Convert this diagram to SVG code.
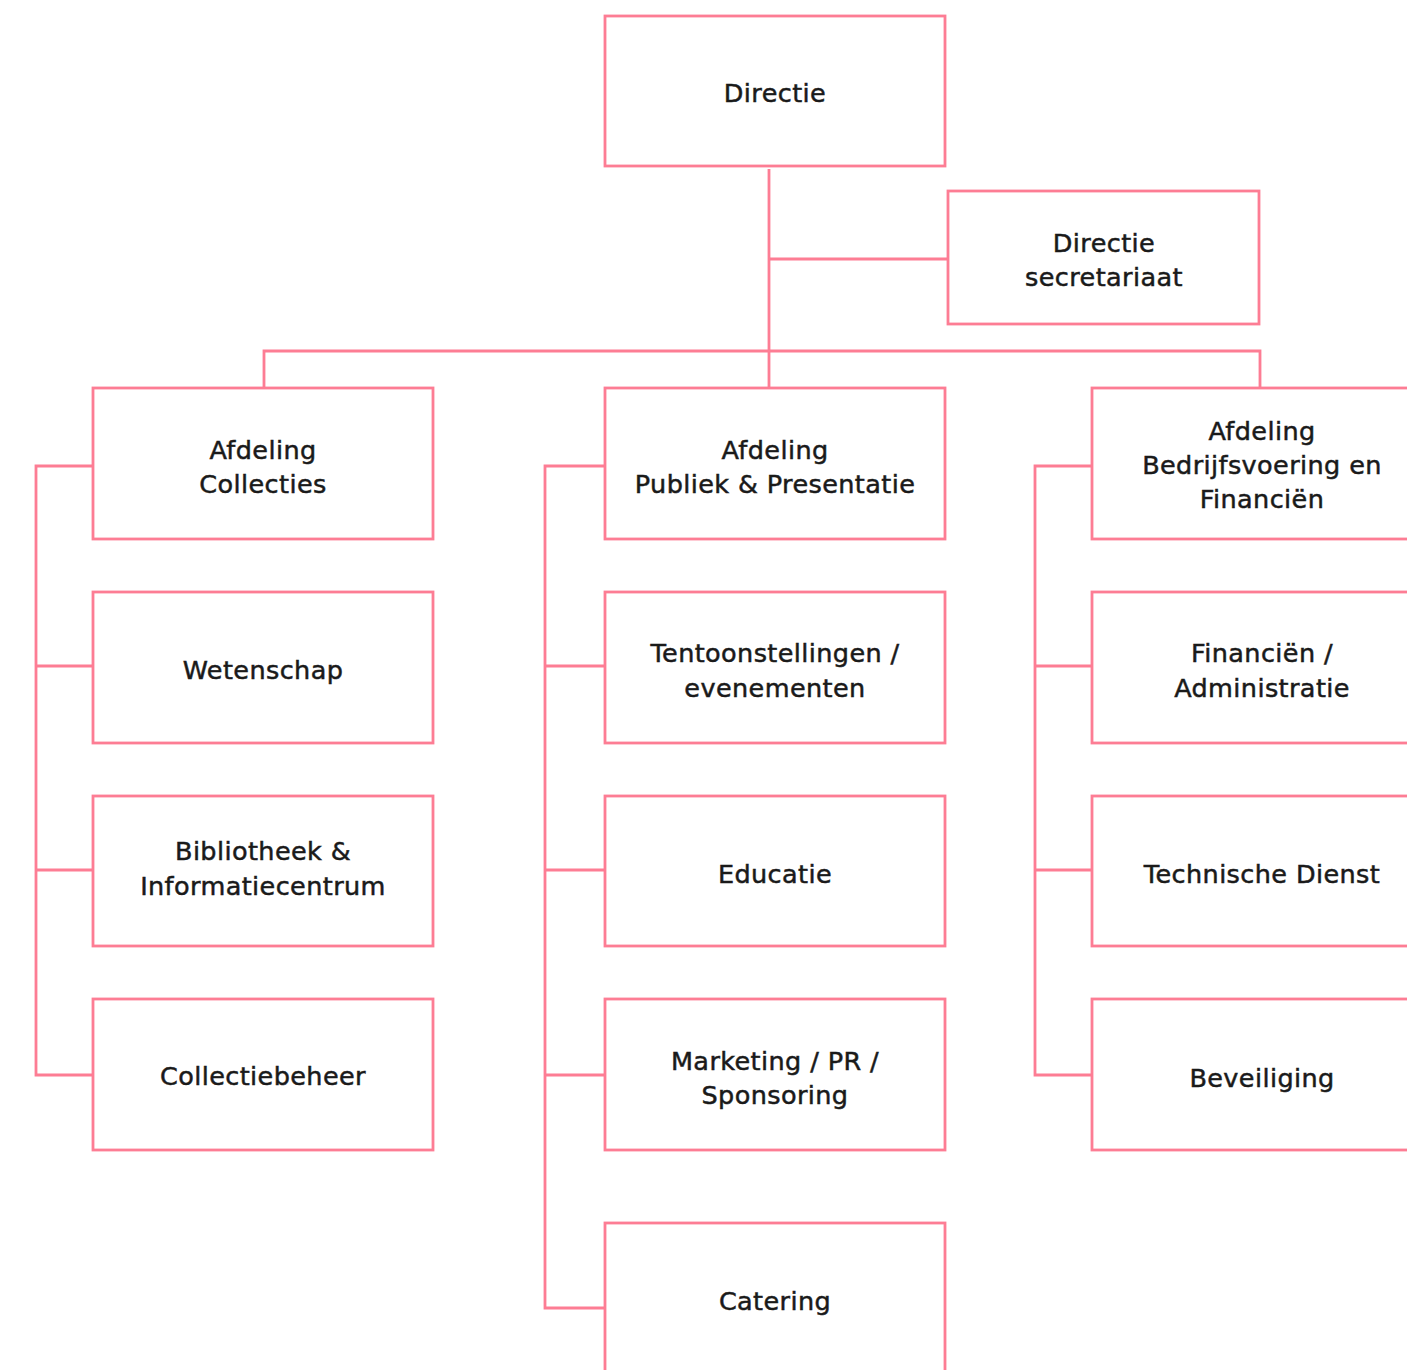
<svg xmlns="http://www.w3.org/2000/svg" width="1407" height="1370" viewBox="0 0 1407 1370">
<style>
.box{fill:#fff;stroke:#fd7d94;stroke-width:2.8}
.ln{fill:none;stroke:#fd7d94;stroke-width:2.8}
text{font-family:"DejaVu Sans","Liberation Sans",sans-serif;font-size:25.5px;fill:#1a1a1a;stroke:#1a1a1a;stroke-width:0.5px;text-anchor:middle;letter-spacing:0.4px}
</style>
<rect width="1407" height="1370" fill="#fff"/>
<g id="connectors">
<path class="ln" d="M769 169V388M769 259H948M264 388V351H1260V388"/>
<path class="ln" d="M93 466H36V1075H93M36 666H93M36 870H93"/>
<path class="ln" d="M605 466H545V1308H605M545 666H605M545 870H605M545 1075H605"/>
<path class="ln" d="M1092 466H1035V1075H1092M1035 666H1092M1035 870H1092"/>
</g>
<g id="directie"><rect class="box" x="605" y="16" width="340" height="150"/><text x="775" y="102">Directie</text></g>
<g id="secretariaat"><rect class="box" x="948" y="191" width="311" height="133"/><text x="1104" y="252">Directie</text><text x="1104" y="286">secretariaat</text></g>
<g id="collecties"><rect class="box" x="93" y="388" width="340" height="151"/><text x="263" y="459">Afdeling</text><text x="263" y="493">Collecties</text></g>
<g id="wetenschap"><rect class="box" x="93" y="592" width="340" height="151"/><text x="263" y="679">Wetenschap</text></g>
<g id="bibliotheek"><rect class="box" x="93" y="796" width="340" height="150"/><text x="263" y="860">Bibliotheek &amp;</text><text x="263" y="895">Informatiecentrum</text></g>
<g id="collectiebeheer"><rect class="box" x="93" y="999" width="340" height="151"/><text x="263" y="1085">Collectiebeheer</text></g>
<g id="publiek"><rect class="box" x="605" y="388" width="340" height="151"/><text x="775" y="459">Afdeling</text><text x="775" y="493">Publiek &amp; Presentatie</text></g>
<g id="tentoonstellingen"><rect class="box" x="605" y="592" width="340" height="151"/><text x="775" y="662">Tentoonstellingen /</text><text x="775" y="697">evenementen</text></g>
<g id="educatie"><rect class="box" x="605" y="796" width="340" height="150"/><text x="775" y="883">Educatie</text></g>
<g id="marketing"><rect class="box" x="605" y="999" width="340" height="151"/><text x="775" y="1070">Marketing / PR /</text><text x="775" y="1104">Sponsoring</text></g>
<g id="catering"><rect class="box" x="605" y="1223" width="340" height="170"/><text x="775" y="1310">Catering</text></g>
<g id="bedrijfsvoering"><rect class="box" x="1092" y="388" width="330" height="151"/><text x="1262" y="440">Afdeling</text><text x="1262" y="474">Bedrijfsvoering en</text><text x="1262" y="508">Financiën</text></g>
<g id="financien"><rect class="box" x="1092" y="592" width="330" height="151"/><text x="1262" y="662">Financiën /</text><text x="1262" y="697">Administratie</text></g>
<g id="technische"><rect class="box" x="1092" y="796" width="330" height="150"/><text x="1262" y="883">Technische Dienst</text></g>
<g id="beveiliging"><rect class="box" x="1092" y="999" width="330" height="151"/><text x="1262" y="1087">Beveiliging</text></g>
</svg>
